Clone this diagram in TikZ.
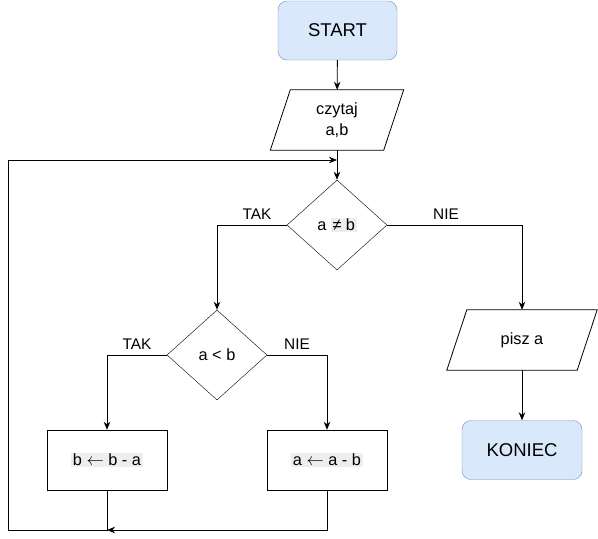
\documentclass[tikz,border=0pt]{standalone}
\usepackage{fontspec}
\setmainfont{Liberation Sans}
\usetikzlibrary{arrows.meta,shapes.geometric,calc}

\definecolor{termfill}{HTML}{DAE8FC}
\definecolor{termdraw}{HTML}{6C8EBF}
\definecolor{hlgrey}{HTML}{EEEEEE}

% light grey highlight behind some of the formula texts
\newcommand{\hlt}[1]{{\setlength{\fboxsep}{1.5pt}\colorbox{hlgrey}{#1}}}

\tikzset{
  base/.style={font=\fontsize{16.3}{21}\selectfont, align=center, inner sep=0pt},
  term/.style={base, draw=termdraw, fill=termfill, rounded corners=9pt,
    minimum width=119pt, minimum height=59pt, font=\fontsize{18.5}{22}\selectfont},
  io/.style={base, minimum height=60pt},
  proc/.style={base, draw, minimum width=120pt, minimum height=60pt},
  decide/.style={base, draw, diamond, minimum width=100pt, minimum height=90pt, aspect=1.11},
  flow/.style={-{Stealth[length=8pt,width=6.5pt,inset=2.5pt]}, line width=0.9pt},
  wire/.style={line width=0.9pt},
  lbl/.style={font=\fontsize{15.4}{18}\selectfont, inner sep=0pt},
}

% slanted outline of an input/output block around a named node
\newcommand{\ioframe}[2]{%
  \draw[line width=0.8pt] ($(#1.north west)+(#2,0)$) -- ($(#1.north east)+(#2,0)$)
    -- ($(#1.south east)-(#2,0)$) -- ($(#1.south west)-(#2,0)$) -- cycle;}

\begin{document}
\begin{tikzpicture}[x=1pt,y=-1pt]
\useasboundingbox (0,0) rectangle (598,539);

\node[term] (start) at (337.5,30.5) {START};
\node[io, minimum width=113pt] (read) at (337,120) {czytaj\\a,b};
\ioframe{read}{10pt}
\node[decide] (d1) at (337,225) {a \hlt{≠ b}};
\node[decide] (d2) at (217,355) {a < b};
\node[io, minimum width=130pt] (out) at (522,340) {pisz a};
\ioframe{out}{10pt}
\node[term, minimum width=120pt] (stop) at (522,450) {KONIEC};
\node[proc] (bsub) at (107,460) {\hlt{b $\leftarrow$ b - a}};
\node[proc] (asub) at (327,460) {\hlt{a $\leftarrow$ a - b}};

\coordinate (merge) at (337,160);
\coordinate (join) at (107,530);
\coordinate (loopbl) at (8,530);
\coordinate (looptl) at (8,160);

\draw[flow] (start) -- (read);
\draw[flow] (read) -- (d1);
\draw[flow] (d1.west) -| (d2.north);
\draw[flow] (d1.east) -| (out.north);
\draw[flow] (out) -- (stop);
\draw[flow] (d2.west) -| (bsub.north);
\draw[flow] (d2.east) -| (asub.north);
\draw[flow] (asub.south) |- (join);
\draw[wire] (bsub.south) -- (join) -- (loopbl) -- (looptl);
\draw[flow] (looptl) -- (merge);

\node[lbl] (tak1) at (257,214) {TAK};
\node[lbl] (nie1) at (446,214) {NIE};
\node[lbl] (tak2) at (137,344) {TAK};
\node[lbl] (nie2) at (297,344) {NIE};
\end{tikzpicture}
\end{document}
